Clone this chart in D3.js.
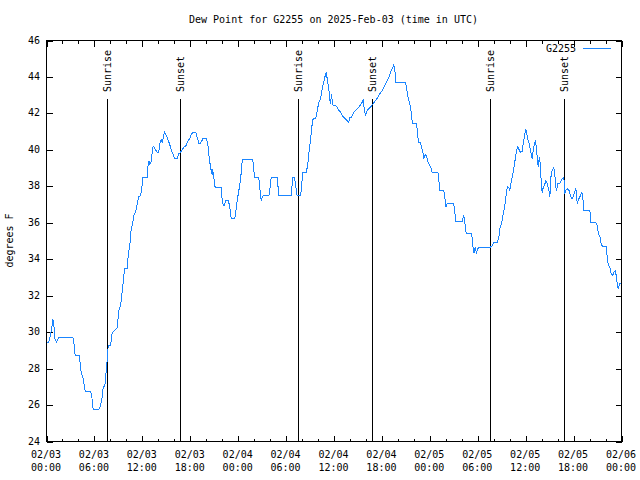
<!DOCTYPE html>
<html><head><meta charset="utf-8">
<script src="https://cdn.jsdelivr.net/npm/d3@7"></script>
<style>
body{margin:0;background:#fff}
svg text{font-family:"DejaVu Sans Mono","Liberation Mono",monospace;font-size:10px;fill:#000}
</style>
</head><body>
<svg id="c" width="640" height="480"></svg>
<script>
// hours after 2025-02-03 00:00 UTC
const hours = [0.05,0.29,0.63,0.79,0.91,1.04,1.25,1.54,3.29,3.42,3.51,3.63,4.13,4.26,4.38,4.60,4.76,4.85,5.55,5.67,5.80,5.85,6.55,6.76,6.97,7.10,7.30,7.48,7.60,7.73,8.01,8.23,8.85,9.05,9.27,9.55,
9.68,9.80,10.11,10.23,10.43,10.56,10.77,10.93,11.14,11.36,11.56,11.77,11.90,12.06,12.61,12.73,12.86,12.94,13.15,13.27,13.44,13.65,13.86,14.06,14.19,14.36,14.49,14.61,14.78,15.11,15.40,15.74,16.07,16.37,16.57,16.78,17.19,17.49,17.62,17.91,18.16,18.37,18.70,18.87,19.07,19.28,19.57,20.04,20.20,20.32,20.45,20.62,20.75,20.79,20.91,21.04,21.13,21.88,21.91,22.04,22.13,22.29,22.41,22.75,22.92,23.04,23.13,23.58,23.75,23.88,24.00,24.17,24.29,24.42,24.51,25.83,
25.96,26.08,26.58,26.67,26.80,26.88,27.01,27.14,27.84,27.96,28.05,28.14,28.89,28.96,29.09,30.64,30.77,30.84,31.05,31.18,31.30,31.39,31.81,31.93,32.02,32.09,32.56,32.64,32.77,32.89,33.06,33.18,
33.27,33.40,33.72,33.90,34.10,34.31,34.52,34.72,34.90,35.02,35.15,35.35,35.47,35.56,35.69,35.77,35.90,36.19,36.40,36.60,36.81,37.03,37.23,37.44,37.65,37.85,37.98,38.15,38.32,38.48,38.69,38.91,39.11,39.32,39.53,39.66,39.73,39.82,39.94,40.07,40.16,40.36,40.57,40.78,40.98,41.20,41.41,41.61,41.82,42.04,42.24,42.45,42.66,42.86,43.08,43.29,43.49,43.61,43.74,44.95,45.08,45.24,45.42,45.58,45.71,45.83,46.29,46.42,46.49,46.62,46.83,46.96,47.17,47.24,47.42,47.58,47.75,48.00,48.17,48.30,49.02,49.15,49.27,49.75,
49.88,50.00,50.17,51.00,51.13,51.25,52.05,52.18,52.25,52.34,52.47,52.55,53.22,53.34,53.43,53.51,53.68,53.84,54.01,54.22,55.60,55.81,56.01,56.47,56.64,56.76,56.94,57.06,57.19,57.35,57.48,57.60,57.76,57.89,58.01,58.19,58.31,58.44,58.60,58.73,58.85,59.02,59.19,59.35,59.57,59.69,59.86,59.98,60.11,60.23,60.39,60.52,60.69,60.82,60.94,61.11,61.23,61.36,61.44,61.57,61.65,61.73,61.82,61.95,62.07,62.20,62.36,62.52,62.70,62.82,62.95,63.02,63.11,63.20,63.36,63.52,63.65,63.77,63.86,64.02,64.27,64.45,64.57,64.78,64.90,65.03,65.20,65.40,65.61,65.78,65.95,66.11,66.28,66.37,66.45,66.65,66.87,67.03,67.16,67.28,68.04,68.16,68.78,68.96,69.12,69.29,69.46,69.62,70.08,70.21,70.33,70.54,70.71,70.91,71.04,71.21,71.34,71.46,71.59,71.75,71.87];
// dew point, degrees F
const dewPoint = [29.45,29.45,30.13,30.73,30.46,29.63,29.45,29.72,29.72,29.49,28.95,28.70,28.70,27.99,27.71,27.44,26.98,26.73,26.73,26.47,25.97,25.74,25.74,25.97,26.43,26.98,27.02,27.89,28.44,29.27,29.27,29.96,30.24,31.19,31.46,32.46,
33.11,33.47,33.47,34.20,34.75,35.48,35.94,36.40,36.58,37.04,37.44,37.49,37.77,38.47,38.47,39.23,39.41,39.23,39.38,40.14,40.18,40.00,39.87,39.87,40.36,40.55,40.42,40.66,40.97,40.69,40.33,39.87,39.51,39.51,39.78,39.87,40.14,40.24,40.42,40.60,40.88,40.97,40.97,40.69,40.36,40.36,40.60,40.60,40.33,39.78,39.32,38.87,38.65,38.92,38.68,38.14,37.92,37.92,37.59,37.13,36.95,36.95,37.22,37.22,36.95,36.58,36.22,36.22,36.76,37.22,37.55,37.99,38.32,38.96,39.45,39.45,
38.87,38.47,38.47,38.14,37.49,37.22,37.37,37.49,37.49,37.77,38.28,38.47,38.47,38.14,37.49,37.49,38.17,38.47,38.47,38.14,37.73,37.49,37.49,37.86,38.47,38.74,38.74,39.05,39.41,39.96,40.51,41.06,
41.43,41.73,41.73,42.16,42.61,42.80,43.35,43.71,44.08,44.26,43.90,43.35,42.80,42.52,43.07,42.71,42.43,42.43,42.34,42.16,42.10,41.88,41.79,41.70,41.61,41.52,41.79,41.79,41.88,42.06,42.16,42.25,42.34,42.47,42.61,42.76,42.43,42.16,41.92,42.03,42.16,42.25,42.34,42.47,42.58,42.71,42.83,42.98,43.13,43.25,43.43,43.62,43.80,43.98,44.26,44.44,44.66,44.44,43.71,43.71,43.43,42.98,42.61,42.34,41.88,41.43,41.43,41.15,40.69,40.42,40.42,40.14,39.78,39.51,39.73,39.69,39.36,39.14,38.96,38.74,38.74,38.22,37.77,37.77,
37.40,36.85,37.04,37.04,36.58,36.08,36.08,36.30,36.40,36.12,35.76,35.39,35.39,35.03,34.52,34.33,34.63,34.38,34.57,34.66,34.66,34.75,34.93,34.93,35.21,35.67,35.94,36.12,36.49,36.85,37.22,37.77,37.99,37.92,37.77,38.22,38.50,38.77,39.23,39.60,39.96,40.18,40.00,39.87,39.92,40.33,40.73,41.15,40.97,40.66,40.42,40.18,39.78,39.51,39.96,40.33,40.51,40.06,39.60,39.05,39.41,39.60,39.23,38.22,37.62,37.95,38.04,38.32,38.14,37.95,37.68,37.44,37.95,38.77,38.90,39.05,38.68,37.95,37.77,38.14,38.17,38.32,38.41,38.50,37.59,37.77,37.86,37.81,37.49,37.31,37.44,37.68,37.86,37.59,37.04,37.31,37.49,37.68,37.37,36.67,36.67,36.03,36.03,35.85,35.39,35.25,34.84,34.70,34.70,34.11,33.71,33.56,33.20,33.11,33.29,33.38,33.11,32.65,32.38,32.65,32.68];
const sunriseTimes = ["2025-02-03T07:38Z","2025-02-04T07:36Z","2025-02-05T07:36Z"];
const sunsetTimes = ["2025-02-03T16:46Z","2025-02-04T16:47Z","2025-02-05T16:48Z"];
const yTicks = [24,26,28,30,32,34,36,38,40,42,44,46];
const titleText = "Dew Point for G2255 on 2025-Feb-03 (time in UTC)";
const yLabel = "degrees F";
const seriesName = "G2255";
const lineColor = "#1a85ff";

const start = new Date("2025-02-03T00:00Z"), end = new Date("2025-02-06T00:00Z");
const L = 46, R = 621, T = 40, B = 441;
const x = d3.scaleUtc().domain([start, end]).range([L, R]);
const y = d3.scaleLinear().domain([24, 46]).range([B, T]);
const data = hours.map((h, i) => ({t: new Date(start.getTime() + h * 3600e3), v: dewPoint[i]}));

const svg = d3.select("#c");
const g = svg.append("g").attr("transform", "translate(0.5,0.5)");

// axes ticks (inward), mirrored
const major = d3.utcHour.every(6).range(start, d3.utcHour.offset(end, 1));
const minor = d3.utcHour.every(2).range(start, end).filter(d => d.getUTCHours() % 6 !== 0);
function axisTicks(ax){ return ax.tickSizeOuter(0).tickFormat(""); }
g.append("g").attr("transform", `translate(0,${B})`).call(axisTicks(d3.axisBottom(x).tickValues(major).tickSize(-6)));
g.append("g").attr("transform", `translate(0,${B})`).call(axisTicks(d3.axisBottom(x).tickValues(minor).tickSize(-3)));
g.append("g").attr("transform", `translate(0,${T})`).call(axisTicks(d3.axisTop(x).tickValues(major).tickSize(-6)));
g.append("g").attr("transform", `translate(0,${T})`).call(axisTicks(d3.axisTop(x).tickValues(minor).tickSize(-3)));
g.append("g").attr("transform", `translate(${L},0)`).call(axisTicks(d3.axisLeft(y).tickValues(yTicks).tickSize(-6)));
g.append("g").attr("transform", `translate(${R},0)`).call(axisTicks(d3.axisRight(y).tickValues(yTicks).tickSize(-6)));
g.selectAll(".domain").remove();
g.selectAll(".tick line").attr("stroke", "#000").attr("shape-rendering", "crispEdges");

// border
g.append("rect").attr("x", L).attr("y", T).attr("width", R - L).attr("height", B - T)
  .attr("fill", "none").attr("stroke", "#000").attr("shape-rendering", "crispEdges");

// tick labels
const fDate = d3.utcFormat("%m/%d"), fTime = d3.utcFormat("%H:%M");
const xl = svg.append("g").selectAll("text").data(major).join("text")
  .attr("x", d => x(d)).attr("text-anchor", "middle");
xl.append("tspan").attr("x", d => x(d)).attr("y", 458).text(fDate);
xl.append("tspan").attr("x", d => x(d)).attr("y", 471).text(fTime);
svg.append("g").selectAll("text").data(yTicks).join("text")
  .attr("x", 40).attr("y", d => y(d)).attr("dy", "0.35em").attr("text-anchor", "end").text(d => d);

// title & y label
svg.append("text").attr("x", (L + R) / 2).attr("y", 23).attr("text-anchor", "middle").text(titleText);
svg.append("text").attr("transform", `translate(13,${(T + B) / 2}) rotate(-90)`).attr("text-anchor", "middle").text(yLabel);

// sunrise / sunset markers
const events = sunriseTimes.map(s => ({t: new Date(s), label: "Sunrise"}))
  .concat(sunsetTimes.map(s => ({t: new Date(s), label: "Sunset"})));
g.selectAll(".ev").data(events).join("line").attr("class", "ev")
  .attr("x1", d => Math.round(x(d.t))).attr("x2", d => Math.round(x(d.t)))
  .attr("y1", 98).attr("y2", B).attr("stroke", "#000").attr("shape-rendering", "crispEdges");
svg.selectAll(".evl").data(events).join("text").attr("class", "evl")
  .attr("transform", d => `translate(${Math.round(x(d.t)) + 4},92) rotate(-90)`)
  .attr("text-anchor", "start").text(d => d.label);

// series line
const line = d3.line().x(d => x(d.t)).y(d => y(d.v));
g.append("path").datum(data).attr("d", line).attr("fill", "none")
  .attr("stroke", lineColor).attr("stroke-width", 1).attr("shape-rendering", "crispEdges");

// legend
svg.append("text").attr("x", 576).attr("y", 52).attr("text-anchor", "end").text(seriesName);
g.append("line").attr("x1", 582).attr("x2", 610).attr("y1", 48).attr("y2", 48)
  .attr("stroke", lineColor).attr("shape-rendering", "crispEdges");
</script>
</body></html>
